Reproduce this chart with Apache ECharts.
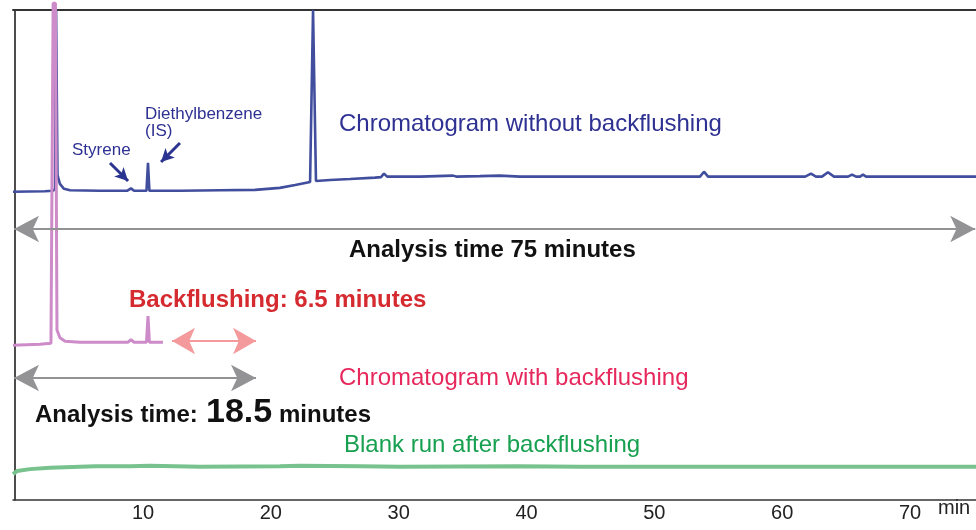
<!DOCTYPE html>
<html>
<head>
<meta charset="utf-8">
<title>Chromatograms with and without backflushing</title>
<script src="https://cdn.jsdelivr.net/npm/echarts@6/dist/echarts.min.js"></script>
<style>
  html, body { margin: 0; padding: 0; background: #fff; }
  #chart { width: 976px; height: 530px; }
</style>
</head>
<body>
<div id="chart"></div>
<script>
// retention time (min) / detector signal (arbitrary units, 0-100 = plot height)
const timeWithout = [-0.17, 2.33, 2.96, 3.12, 3.2, 3.31, 3.5, 3.82, 4.29, 6.6, 8.75, 9.06, 9.3, 10.27, 10.39, 10.5,
  12.9, 16.02, 18.76, 20.7, 21.9, 23.07, 23.3, 23.53, 24.63, 26.19, 28.15, 28.62, 28.85, 29.09, 31.67, 34.25, 34.5,
  36.36, 37.9, 39.5, 53.57, 53.88, 54.2, 61.8, 62.25, 62.64, 63.11, 63.58, 64.05, 65.15, 65.46, 65.78, 66.09, 66.32,
  66.56, 75.16]
const signalWithout = [62.9, 63.0, 63.1, 63.5, 100, 66.3, 64.5, 63.5, 63.2, 63.1, 63.1, 63.6, 63.1, 63.1, 68.8, 63.1,
  63.1, 63.2, 63.3, 63.7, 64.3, 64.9, 100, 65.1, 65.3, 65.5, 65.8, 65.9, 66.6, 66.0, 66.0, 66.2, 66.0,
  66.1, 66.2, 66.0, 66.0, 67.0, 66.0, 66.0, 66.6, 66.0, 66.0, 66.9, 66.0, 66.0, 66.4, 66.0, 66.0, 66.4,
  66.0, 66.0]

const timeWith = [-0.17, 1.94, 2.8, 2.92, 2.97, 3.15, 3.27, 3.5, 3.9, 5.07, 5.85, 6.0, 6.17, 8.83, 9.06, 9.3, 10.27,
  10.39, 10.5, 11.56]
const signalWith = [31.6, 31.8, 32.0, 32.2, 101.4, 101.4, 34.7, 33.1, 32.4, 32.2, 32.2, 32.55, 32.2, 32.2, 32.7, 32.2, 32.2,
  37.55, 32.2, 32.2]

const timeBlank = [-0.17, 0.14, 1.16, 2.72, 5.07, 6.26, 9.0, 10.55, 14.46, 20.7, 22.28, 26.97, 30.1, 39.49, 44.18,
  53.57, 66.87, 75.16]
const signalBlank = [5.3, 5.9, 6.3, 6.6, 6.8, 6.9, 6.9, 7.0, 6.8, 6.9, 7.0, 6.9, 6.8, 6.9, 6.8,
  6.8, 6.8, 6.8]

const tickValues = [10, 20, 30, 40, 50, 60, 70]

const FONT = '"Liberation Sans", Arial, Helvetica, sans-serif'
const xMin = -0.17
const xMax = 75.16

function zip(xs, ys) {
  return xs.map((x, i) => [x, ys[i]])
}

function txt(text, x, baseline, size, color, weight) {
  return {
    type: 'text',
    x: x,
    y: baseline - size * 0.28,
    silent: true,
    style: {
      text: text,
      fill: color,
      fontSize: size,
      fontWeight: weight || 'normal',
      fontFamily: FONT,
      align: 'left',
      verticalAlign: 'middle'
    }
  }
}

// double / single headed arrows in data coords (tip sits on the end coord)
function arrow(from, to, color, width, size, both) {
  return [
    { coord: from, symbol: both ? 'arrow' : 'none', symbolSize: size, lineStyle: { color: color, width: width, type: 'solid' } },
    { coord: to, symbol: 'arrow', symbolSize: size }
  ]
}

const chart = echarts.init(document.getElementById('chart'))

chart.setOption({
  animation: false,
  backgroundColor: '#fff',
  grid: { left: 13, right: 0, top: 10, bottom: 30 },
  xAxis: [{
    type: 'value',
    min: xMin,
    max: xMax,
    axisLine: { lineStyle: { color: '#333', width: 1.5 } },
    axisTick: { show: false },
    splitLine: { show: false },
    axisLabel: {
      customValues: tickValues,
      color: '#222',
      fontSize: 20,
      fontFamily: FONT,
      margin: 3
    }
  }, {
    type: 'value',
    position: 'top',
    min: xMin,
    max: xMax,
    axisLine: { show: true, lineStyle: { color: '#333', width: 2 } },
    axisTick: { show: false },
    axisLabel: { show: false },
    splitLine: { show: false }
  }],
  yAxis: {
    type: 'value',
    min: 0,
    max: 100,
    axisLine: { show: true, lineStyle: { color: '#111', width: 1.5 } },
    axisTick: { show: false },
    axisLabel: { show: false },
    splitLine: { show: false }
  },
  series: [{
    name: 'Chromatogram without backflushing',
    type: 'line',
    data: zip(timeWithout, signalWithout),
    showSymbol: false,
    lineStyle: { color: '#414d9d', width: 2.6 },
    z: 3
  }, {
    name: 'Chromatogram with backflushing',
    type: 'line',
    data: zip(timeWith, signalWith),
    showSymbol: false,
    clip: false,
    lineStyle: { color: '#cd8bc9', width: 3 },
    z: 4
  }, {
    name: 'Blank run after backflushing',
    type: 'line',
    data: zip(timeBlank, signalBlank),
    showSymbol: false,
    lineStyle: { color: '#77c28d', width: 4 },
    z: 3
  }, {
    name: 'arrows',
    type: 'line',
    data: [],
    z: 5,
    markLine: {
      silent: true,
      animation: false,
      label: { show: false },
      emphasis: { disabled: true },
      data: [
        arrow([-0.09, 55.3], [75.1, 55.3], '#939395', 2, [20, 25], true),
        arrow([12.27, 32.45], [18.84, 32.45], '#f49a9c', 2, [20, 23], true),
        arrow([-0.09, 24.9], [18.84, 24.9], '#939395', 2, [20, 25], true),
        arrow([7.42, 68.78], [8.83, 65.1], '#2b3490', 3, [10, 13], false),
        arrow([12.89, 72.86], [11.41, 68.98], '#2b3490', 3, [10, 13], false)
      ]
    }
  }],
  graphic: [
    txt('Chromatogram without backflushing', 339, 131, 24, '#2e3192'),
    txt('Styrene', 72, 155, 17, '#2e3192'),
    txt('Diethylbenzene', 145, 119, 17, '#2e3192'),
    txt('(IS)', 145, 136, 17, '#2e3192'),
    txt('Analysis time 75 minutes', 349, 256.7, 24, '#111', 'bold'),
    txt('Backflushing: 6.5 minutes', 129, 306.7, 24, '#d52b30', 'bold'),
    txt('Chromatogram with backflushing', 339, 385, 24, '#e6285c'),
    txt('Analysis time:', 35, 421.7, 24, '#111', 'bold'),
    txt('18.5', 206, 421.7, 34, '#111', 'bold'),
    txt('minutes', 279, 421.7, 24, '#111', 'bold'),
    txt('Blank run after backflushing', 344, 451.7, 24, '#16a04f'),
    txt('min', 938, 514, 20, '#222')
  ]
})
</script>
</body>
</html>
